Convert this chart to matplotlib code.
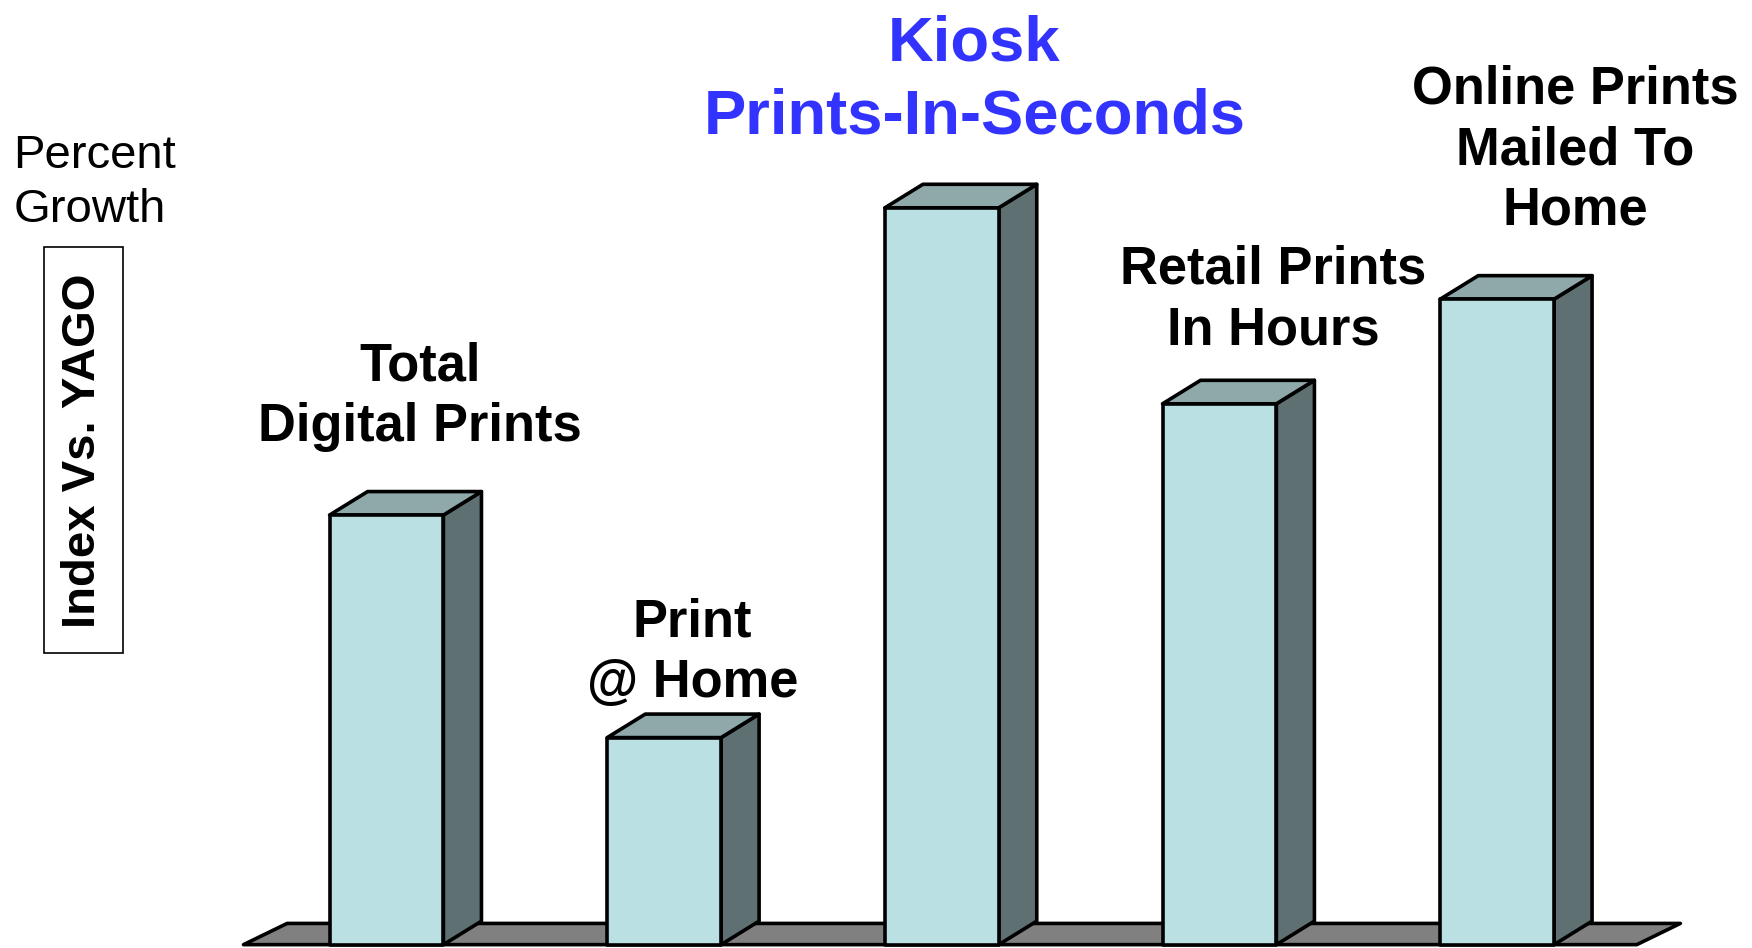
import numpy as np
import matplotlib
matplotlib.use('Agg')
import matplotlib.pyplot as plt
from matplotlib.patches import Polygon, Rectangle

plt.rcParams['font.family'] = ['Liberation Sans', 'DejaVu Sans']

# Data (relative growth index)
categories = ['Total\nDigital Prints', 'Print\n@ Home', 'Kiosk\nPrints-In-Seconds',
              'Retail Prints\nIn Hours', 'Online Prints\nMailed To\nHome']
values = [58.3, 28.1, 100.0, 73.4, 87.6]
label_colors = ['black', 'black', '#3333FF', 'black', 'black']

# Styling
front_col = '#BBE0E3'
top_col = '#8FA9AB'
side_col = '#5E7071'
floor_col = '#808080'
lw = 2.6
bar_w = 0.41
dx, dy = 0.137, 3.19

fig = plt.figure(figsize=(17.52, 9.48), dpi=100)
ax = fig.add_axes([0, 0, 1, 1])
ax.set_xlim(-1.392, 4.918)
ax.set_ylim(-0.455, 128.2)
ax.axis('off')

pos = np.arange(len(values))

# floor
fl, fr = pos[0] - 0.515, pos[-1] + 0.503
ax.add_patch(Polygon([(fl, 0), (fr, 0), (fr + 0.157, 2.88), (fl + 0.157, 2.88)],
                     closed=True, facecolor=floor_col, edgecolor='black', lw=lw,
                     joinstyle='round', zorder=1))

# 3D bars
for p, v in zip(pos, values):
    x0, x1 = p - bar_w / 2, p + bar_w / 2
    ax.add_patch(Polygon([(x1, 0), (x1 + dx, dy), (x1 + dx, v + dy), (x1, v)],
                         closed=True, facecolor=side_col, edgecolor='black', lw=lw,
                         joinstyle='round', zorder=2))
    ax.add_patch(Polygon([(x0, v), (x0 + dx, v + dy), (x1 + dx, v + dy), (x1, v)],
                         closed=True, facecolor=top_col, edgecolor='black', lw=lw,
                         joinstyle='round', zorder=2))
    ax.add_patch(Polygon([(x0, 0), (x1, 0), (x1, v), (x0, v)],
                         closed=True, facecolor=front_col, edgecolor='black', lw=lw,
                         joinstyle='round', zorder=3))

# category labels above bars
label_x = [0.12, 1.103, 2.117, 3.195, 4.282]
label_y = [74.4, 39.6, 117.3, 87.5, 107.8]
label_size = [37.8, 37.8, 45.6, 37.8, 37.8]
label_ls = [1.27, 1.27, 1.30, 1.27, 1.27]
for lab, x, y, c, s, ls in zip(categories, label_x, label_y, label_colors, label_size, label_ls):
    ax.text(x, y, lab, ha='center', va='center', fontsize=s, fontweight='bold',
            color=c, linespacing=ls, zorder=5)

# left-hand axis captions
fig.text(0.0077, 0.807, 'Percent\nGrowth', ha='left', va='center', fontsize=34,
         linespacing=1.32)
fig.text(0.0475, 0.525, 'Index Vs. YAGO', ha='center', va='center', fontsize=34,
         fontweight='bold', rotation=90)
fig.add_artist(Rectangle((0.0249, 0.311), 0.0453, 0.428, transform=fig.transFigure,
                         fill=False, edgecolor='black', lw=1.2))

fig.savefig('out.png', dpi=100)
